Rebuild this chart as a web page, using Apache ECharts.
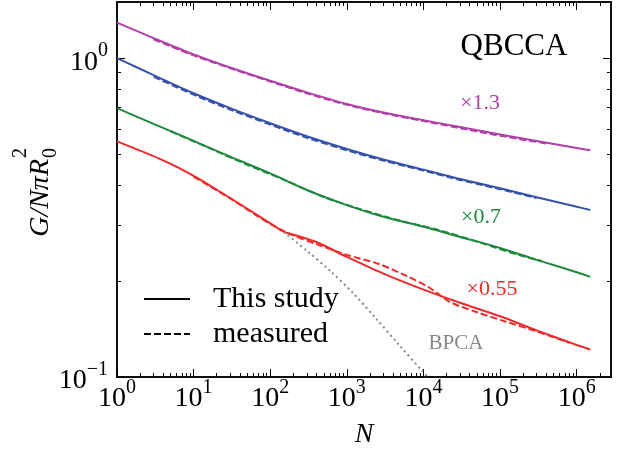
<!DOCTYPE html>
<html>
<head>
<meta charset="utf-8">
<script src="https://cdn.jsdelivr.net/npm/echarts@6/dist/echarts.min.js"></script>
<style>
html, body { margin: 0; padding: 0; background: #fff; }
#chart { width: 632px; height: 454px; }
</style>
</head>
<body>
<div id="chart"></div>
<script>
//////////// 데이터 ////////////
// 공통 N 격자 (This study)
var modelN = [1, 3, 10, 30, 100, 300, 1e3, 3e3, 1e4, 3e4, 1e5, 3e5, 1e6, 1.5e6];
var purpleModel = [1.293, 1.156, 1.027, 0.935, 0.849, 0.781, 0.718, 0.675, 0.639, 0.608, 0.576, 0.550, 0.523, 0.514];
var blueModel   = [1.000, 0.885, 0.776, 0.697, 0.625, 0.569, 0.519, 0.481, 0.447, 0.418, 0.391, 0.366, 0.342, 0.334];
var greenModel  = [0.697, 0.622, 0.550, 0.491, 0.435, 0.386, 0.346, 0.318, 0.296, 0.275, 0.254, 0.233, 0.213, 0.206];

// red 곡선은 N=150 에서 꺾임 -> 앞/뒤 따로
var redEarlyN = [1, 2, 3.5, 6.5, 12, 23, 43, 80, 150];
var redEarly  = [0.548, 0.513, 0.485, 0.452, 0.417, 0.379, 0.345, 0.314, 0.285];
var redLateN = [150, 400, 1e3, 3e3, 1e4, 3e4, 1e5, 3e5, 1e6, 1.5e6];
var redLate  = [0.285, 0.265, 0.238, 0.211, 0.188, 0.171, 0.155, 0.140, 0.126, 0.122];

// measured
var purpleMeasN = [3, 10, 30, 100, 300, 1e3, 3e3, 1e4, 3e4, 1e5, 4e5];
var purpleMeas  = [1.145, 1.020, 0.930, 0.845, 0.776, 0.714, 0.672, 0.635, 0.603, 0.571, 0.540];
var blueMeasN = [3, 10, 30, 100, 300, 1e3, 3e3, 1e4, 3e4, 1e5, 3e5];
var blueMeas  = [0.875, 0.768, 0.690, 0.619, 0.563, 0.514, 0.477, 0.444, 0.415, 0.388, 0.364];
var greenMeasN = [5, 15, 50, 150, 500, 1.5e3, 5e3, 1.5e4, 5e4, 1.5e5, 3.5e5];
var greenMeas  = [0.590, 0.526, 0.463, 0.416, 0.367, 0.336, 0.309, 0.290, 0.266, 0.244, 0.231];
var redMeasN = [10, 30, 100, 200, 400, 1e3, 2.5e3, 6e3, 1.2e4, 2.2e4, 5e4, 1.2e5, 3e5, 8e5];
var redMeas  = [0.425, 0.363, 0.302, 0.278, 0.261, 0.2415, 0.227, 0.2075, 0.1905, 0.172, 0.1596, 0.149, 0.139, 0.128];

// BPCA
var bpcaN = [150, 300, 600, 1200, 2400, 4800, 9600, 12000];
var bpca  = [0.285, 0.249, 0.2155, 0.1835, 0.1525, 0.126, 0.1045, 0.0986];

// 축 눈금
var xMajor = [1, 10, 100, 1e3, 1e4, 1e5, 1e6];
var yMajor = [0.1, 1];
var xRange = [1, 2.8e6];
var yRange = [0.1, 1.5];

//////////// 유틸 ////////////
function pairs(xs, ys) {
	var out = [];
	for (var i = 0; i < xs.length; i++) out.push([xs[i], ys[i]]);
	return out;
}

// 2..9 x 10^k 보조 눈금
function minorTicks(lo, hi) {
	var out = [];
	for (var k = -3; k <= 7; k++) {
		for (var m = 2; m <= 9; m++) {
			var v = m * Math.pow(10, k);
			if (v > lo && v < hi) out.push(v);
		}
	}
	return out;
}

function powLabel(value) {
	var e = Math.round(Math.log10(value));
	var s = e < 0 ? '\u2212' + (-e) : '' + e;
	return '{m|10}{s|' + s + '}';
}

var serif = 'Liberation Serif';
var labelRich = {
	m: { fontFamily: serif, fontSize: 28, color: '#000', lineHeight: 42 },
	s: { fontFamily: serif, fontSize: 20, color: '#000', lineHeight: 20, verticalAlign: 'top' }
};

function logAxis(range, pos, ticks, len, labels) {
	var label = { show: false };
	if (labels) {
		label = { show: true, customValues: ticks, formatter: powLabel, rich: labelRich };
		if (pos === 'left') {
			label.margin = 9;
			label.padding = [8, 0, 0, 0];
		} else {
			label.margin = 1;
		}
	}
	return {
		type: 'log', logBase: 10, min: range[0], max: range[1], position: pos,
		axisLine: { show: true, onZero: false, lineStyle: { color: '#000', width: 1.5 } },
		axisTick: { show: true, inside: true, length: len, customValues: ticks,
			lineStyle: { color: '#000', width: 1 } },
		axisLabel: label,
		splitLine: { show: false },
		minorTick: { show: false }
	};
}

//////////// 차트 ////////////
function lineSeries(data, color, type) {
	return {
		type: 'line', data: data, symbol: 'none', smooth: 0.3,
		lineStyle: { color: color, width: 2, type: type },
		itemStyle: { color: color }, silent: true, z: type === 'solid' ? 3 : 4
	};
}

var colors = { purple: '#b040a8', blue: '#3652aa', green: '#1f8a3e', red: '#f02a2a' };

function showChart() {
	var chart = echarts.init(document.getElementById('chart'));
	var xMinor = minorTicks(xRange[0], xRange[1]);
	var yMinor = minorTicks(yRange[0], yRange[1]);

	var xMain = logAxis(xRange, 'bottom', xMajor, 8, true);
	xMain.name = 'N';
	xMain.nameLocation = 'middle';
	xMain.nameGap = 44;
	xMain.nameTextStyle = { fontFamily: serif, fontStyle: 'italic', fontSize: 28, color: '#000' };

	var option = {
		animation: false,
		backgroundColor: '#fff',
		grid: { left: 117, right: 21, top: 2, bottom: 77, containLabel: false },
		xAxis: [
			xMain,
			logAxis(xRange, 'bottom', xMinor, 4, false),
			logAxis(xRange, 'top', xMajor, 8, false),
			logAxis(xRange, 'top', xMinor, 4, false)
		],
		yAxis: [
			logAxis(yRange, 'left', yMajor, 8, true),
			logAxis(yRange, 'left', yMinor, 4, false),
			logAxis(yRange, 'right', yMajor, 8, false),
			logAxis(yRange, 'right', yMinor, 4, false)
		],
		legend: {
			data: ['This study', 'measured'],
			orient: 'vertical', left: 143, top: 282, padding: 0,
			itemWidth: 46, itemHeight: 14, itemGap: 1,
			itemStyle: { opacity: 0 },
			textStyle: { fontFamily: serif, fontSize: 30, color: '#000', lineHeight: 34, padding: [0, 0, 0, 18] }
		},
		series: [
			lineSeries(pairs(modelN, purpleModel), colors.purple, 'solid'),
			lineSeries(pairs(modelN, blueModel), colors.blue, 'solid'),
			lineSeries(pairs(modelN, greenModel), colors.green, 'solid'),
			lineSeries(pairs(redEarlyN, redEarly), colors.red, 'solid'),
			lineSeries(pairs(redLateN, redLate), colors.red, 'solid'),
			lineSeries(pairs(purpleMeasN, purpleMeas), colors.purple, [7, 3]),
			lineSeries(pairs(blueMeasN, blueMeas), colors.blue, [7, 3]),
			lineSeries(pairs(greenMeasN, greenMeas), colors.green, [7, 3]),
			lineSeries(pairs(redMeasN, redMeas), colors.red, [7, 3]),
			lineSeries(pairs(bpcaN, bpca), '#888888', [2, 3.3]),
			// 범례용
			{ name: 'This study', type: 'line', data: [], symbol: 'none', itemStyle: { color: '#000' },
				lineStyle: { color: '#000', width: 2, type: 'solid' } },
			{ name: 'measured', type: 'line', data: [], symbol: 'none', itemStyle: { color: '#000' },
				lineStyle: { color: '#000', width: 2, type: [7, 3] } }
		],
		graphic: [
			{ type: 'text', x: 514, y: 47, style: { text: 'QBCCA', fontFamily: serif, fontSize: 31, fill: '#000', textAlign: 'center', textVerticalAlign: 'middle' } },
			{ type: 'text', x: 480, y: 103, style: { text: '\u00d71.3', fontFamily: serif, fontSize: 22, fill: colors.purple, textAlign: 'center', textVerticalAlign: 'middle' } },
			{ type: 'text', x: 481, y: 217, style: { text: '\u00d70.7', fontFamily: serif, fontSize: 22, fill: colors.green, textAlign: 'center', textVerticalAlign: 'middle' } },
			{ type: 'text', x: 492, y: 289, style: { text: '\u00d70.55', fontFamily: serif, fontSize: 22, fill: colors.red, textAlign: 'center', textVerticalAlign: 'middle' } },
			{ type: 'text', x: 456, y: 343, style: { text: 'BPCA', fontFamily: serif, fontSize: 21, fill: '#888888', textAlign: 'center', textVerticalAlign: 'middle' } },
			// 세로축 이름 G/NπR_0^2
			{ type: 'group', x: 41, y: 186, rotation: Math.PI / 2, children: [
				{ type: 'text', x: 27, y: 0, style: { text: 'G/N\u03c0R', fontFamily: serif, fontStyle: 'italic', fontSize: 28, fill: '#000', textAlign: 'right', textVerticalAlign: 'middle' } },
				{ type: 'text', x: 28, y: -20, style: { text: '2', fontFamily: serif, fontSize: 20, fill: '#000', textAlign: 'left', textVerticalAlign: 'middle' } },
				{ type: 'text', x: 28, y: 10, style: { text: '0', fontFamily: serif, fontSize: 20, fill: '#000', textAlign: 'left', textVerticalAlign: 'middle' } }
			] }
		]
	};

	chart.setOption(option);
}

showChart();
</script>
</body>
</html>
